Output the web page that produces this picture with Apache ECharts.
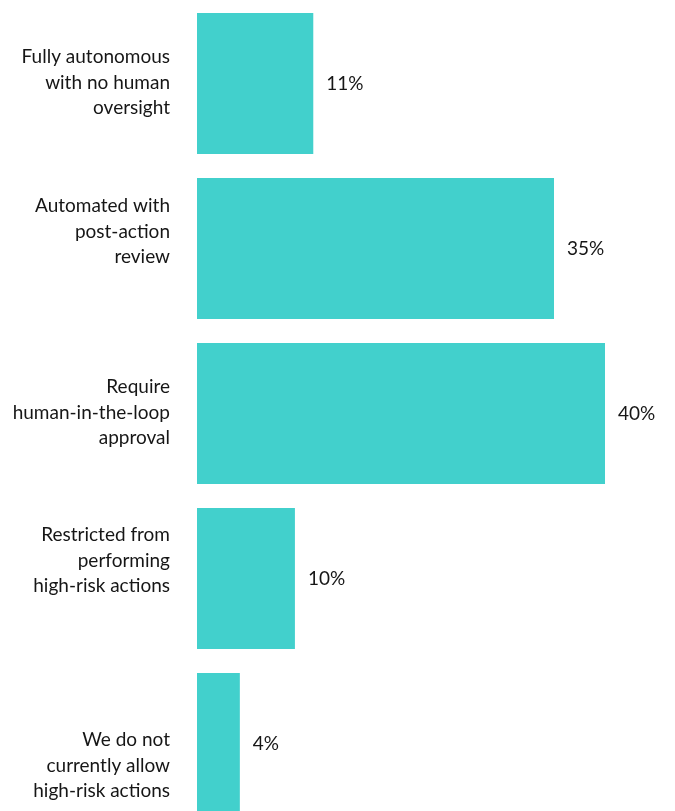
<!DOCTYPE html>
<html>
<head>
<meta charset="utf-8">
<script src="https://cdn.jsdelivr.net/npm/echarts@6/dist/echarts.min.js"></script>
<style>
  html, body { margin: 0; padding: 0; background: #fff; overflow: hidden; }
  #chart { width: 675px; height: 826px; }
</style>
</head>
<body>
<div id="chart"></div>
<script>
// categories top to bottom
const categories = [
  "Fully autonomous\nwith no human\noversight",
  "Automated with\npost-action\nreview",
  "Require\nhuman-in-the-loop\napproval",
  "Restricted from\nperforming\nhigh-risk actions",
  "We do not\ncurrently allow\nhigh-risk actions"
];
// bar lengths as measured, printed labels as shown
const values = [11.4, 35, 40, 9.6, 4.2];
const valueLabels = ["11%", "35%", "40%", "10%", "4%"];

// the category labels aren't all centred on their bar (px, + = down)
const labelShift = [-1, -17, -1, -18, 22];

// spacer line above or below the text pushes the block off centre
let rich = {};
labelShift.forEach(function (s, i) {
  rich["g" + i] = { fontSize: 1, lineHeight: Math.max(1, 2 * Math.abs(s)) };
});

// div is a bit taller than the window, last bar runs off the bottom
const chart = echarts.init(document.getElementById("chart"));
chart.setOption({
  animation: false,
  grid: {
    left: 197,
    width: 408,
    top: 1,
    bottom: 0
  },
  xAxis: {
    type: "value",
    min: 0,
    max: 40,
    show: false
  },
  yAxis: {
    type: "category",
    inverse: true,
    data: categories,
    axisLine: { show: false },
    axisTick: { show: false },
    axisLabel: {
      margin: 27,
      color: "#161616",
      fontFamily: "Lato",
      fontSize: 19,
      lineHeight: 25.5,
      align: "right",
      rich: rich,
      formatter: function (value, index) {
        let g = "{g" + index + "| }";
        return labelShift[index] < 0 ? value + "\n" + g : g + "\n" + value;
      }
    }
  },
  series: [
    {
      type: "bar",
      barCategoryGap: "14.5%",
      data: values,
      itemStyle: { color: "#42D0CC" },
      label: {
        show: true,
        position: "right",
        distance: 13,
        color: "#161616",
        fontFamily: "Lato",
        fontSize: 19,
        formatter: (p) => valueLabels[p.dataIndex]
      }
    }
  ]
});
</script>
</body>
</html>
